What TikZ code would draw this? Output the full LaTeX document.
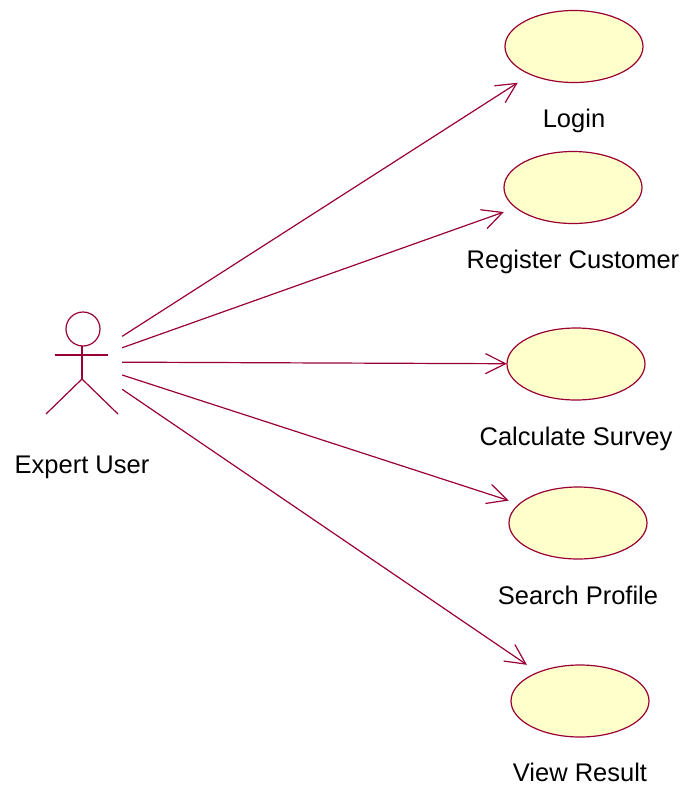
\documentclass[tikz,border=0pt]{standalone}
\usepackage{fontspec}
\setmainfont{Liberation Sans}
\usepackage{xcolor}
\usepackage{tikz}
\usetikzlibrary{positioning,shapes.geometric,arrows.meta}
\definecolor{roseline}{HTML}{990033}
\definecolor{rosefill}{HTML}{FFFFCC}

\begin{document}
\begin{tikzpicture}[x=1pt,y=-1pt,
	usecase/.style={rectangle, inner sep=0pt, minimum width=138pt, minimum height=72pt,
		label={[ellipse, draw=roseline, fill=rosefill, line width=1.2pt, inner sep=0pt,
			minimum width=138pt, minimum height=72pt]center:{}}},
	uctext/.style={inner sep=0pt, text height=18.5pt, font=\fontsize{25.5pt}{30pt}\selectfont},
	assoc/.style={draw=roseline, line width=1.2pt, -{Straight Barb[length=20pt,width=20pt]}}]
	\useasboundingbox (0,0) rectangle (686,785);
	\node[inner sep=0pt, minimum width=80pt, minimum height=104pt] (actor) at (82,362) {};
	\begin{scope}[shift={(actor.center)}, draw=roseline, line width=1.2pt]
		\draw (1,-33) circle (17);
		\draw (0,-16) -- (0,17);
		\draw (-27,-7) -- (26,-7);
		\draw (-36,52) -- (0,17) -- (36,52);
	\end{scope}
	\node[uctext, below=41pt of actor] (actortext) {Expert User};
	\node[usecase] (login)    at (574,46.5)  {};
	\node[usecase] (register) at (573,187.5) {};
	\node[usecase] (calc)     at (576,364)   {};
	\node[usecase] (search)   at (578,523)   {};
	\node[usecase] (view)     at (580,701)   {};
	\node[uctext, below=26.5pt of login]    (logintext)    {Login};
	\node[uctext, below=26.5pt of register] (registertext) {Register Customer};
	\node[uctext, below=26.5pt of calc]     (calctext)     {Calculate Survey};
	\node[uctext, below=26.5pt of search]   (searchtext)   {Search Profile};
	\node[uctext, below=25.5pt of view]     (viewtext)     {View Result};
	\foreach \uc in {login,register,calc,search,view}
		\draw[assoc] (actor) -- (\uc);
\end{tikzpicture}
\end{document}
